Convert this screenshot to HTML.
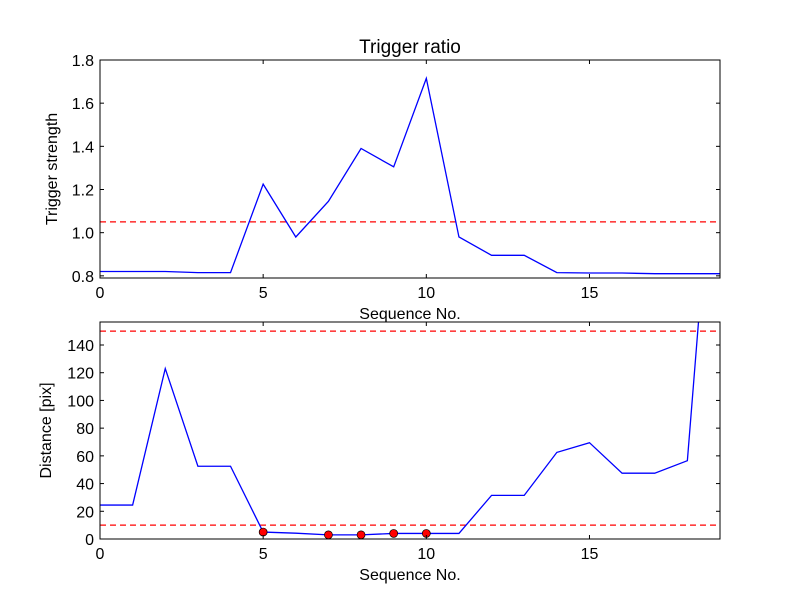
<!DOCTYPE html>
<html><head><meta charset="utf-8"><style>
body{margin:0;background:#fff;font-family:"Liberation Sans",sans-serif}
svg text{font-family:"Liberation Sans",sans-serif;fill:#000}
</style></head><body>
<svg id="c" width="800" height="600" xmlns="http://www.w3.org/2000/svg"></svg>
<script>
const xTop=[0,1,2,3,4,5,6,7,8,9,10,11,12,13,14,15,16,17,18,19];
const ratio=[0.82,0.82,0.82,0.815,0.815,1.225,0.98,1.145,1.39,1.305,1.715,0.98,0.895,0.895,0.815,0.813,0.813,0.81,0.81,0.81];
const ratioThreshold=[1.05];
const distance=[24.5,24.5,123,52.5,52.5,5,4.2,3,3,4,4,4,31.5,31.5,62.5,69.5,47.5,47.5,56.5,350];
const markX=[5,7,8,9,10];
const markY=[5,3,3,4,4];
const distThresholds=[150,10];
const xTicks=[0,5,10,15];
const topYTicks=[0.8,1.0,1.2,1.4,1.6,1.8];
const botYTicks=[0,20,40,60,80,100,120,140];
const NS="http://www.w3.org/2000/svg";
const svg=document.getElementById('c');
function mk(t,a,p){const e=document.createElementNS(NS,t);for(const k in a)e.setAttribute(k,a[k]);(p||svg).appendChild(e);return e;}
function panel(o){
  const sx=v=>o.x0+(v-0)/(19-0)*(o.x1-o.x0);
  const sy=v=>o.y1-(v-o.ymin)/(o.ymax-o.ymin)*(o.y1-o.y0);
  const g=mk('g',{});
  
  
  const cid='clip'+o.name;
  const cp=mk('clipPath',{id:cid},g);mk('rect',{x:o.x0,y:o.y0,width:o.x1-o.x0,height:o.y1-o.y0},cp);
  const pg=mk('g',{'clip-path':'url(#'+cid+')'},g);
  o.hlines.forEach(h=>{const l=mk('line',{x1:o.x0,x2:o.x1,y1:sy(h),y2:sy(h),stroke:'#f00','stroke-width':1.3,'stroke-dasharray':'6,4'},pg);
    });
  const pts=o.ys.map((v,i)=>sx(xTop[i])+','+sy(v)).join(' ');
  const pl=mk('polyline',{points:pts,fill:'none',stroke:'#00f','stroke-width':1.3},pg);
  
  if(o.mx){o.mx.forEach((x,i)=>{const c=mk('circle',{cx:sx(x),cy:sy(o.my[i]),r:4,fill:'#f00',stroke:'#000','stroke-width':0.7},pg);
    });}
  mk('rect',{x:o.x0,y:o.y0,width:o.x1-o.x0,height:o.y1-o.y0,fill:'none',stroke:'#000','stroke-width':1},g);
  xTicks.forEach(t=>{const x=sx(t);mk('line',{x1:x,x2:x,y1:o.y1,y2:o.y1-4,stroke:'#000'},g);mk('line',{x1:x,x2:x,y1:o.y0,y2:o.y0+4,stroke:'#000'},g);
    const tx=mk('text',{x:x,y:o.y1+20,'text-anchor':'middle','font-size':16},g);tx.textContent=t;
    });
  o.yt.forEach(t=>{const y=sy(t);mk('line',{x1:o.x0,x2:o.x0+4,y1:y,y2:y,stroke:'#000'},g);mk('line',{x1:o.x1,x2:o.x1-4,y1:y,y2:y,stroke:'#000'},g);
    const tx=mk('text',{x:o.x0-6,y:y+6,'text-anchor':'end','font-size':16},g);tx.textContent=o.fmt(t);
    });
  const xl=mk('text',{x:(o.x0+o.x1)/2,y:o.y1+41,'text-anchor':'middle','font-size':16},g);xl.textContent='Sequence No.';
  
  const yl=mk('text',{x:0,y:0,'text-anchor':'middle','font-size':16,transform:'translate('+o.ylx+','+((o.y0+o.y1)/2)+') rotate(-90)'},g);yl.textContent=o.ylabel;
  
}
panel({name:'ratio-panel',x0:100,x1:720,y0:60,y1:278,ymin:0.79,ymax:1.8,ys:ratio,hlines:ratioThreshold,yt:topYTicks,fmt:v=>v.toFixed(1),ylabel:'Trigger strength',ylx:57});
panel({name:'distance-panel',x0:100,x1:720,y0:322,y1:539,ymin:0,ymax:156.6,ys:distance,hlines:distThresholds,yt:botYTicks,fmt:v=>v,ylabel:'Distance [pix]',ylx:51,mx:markX,my:markY});
const t=mk('text',{x:410,y:53,'text-anchor':'middle','font-size':19});t.textContent='Trigger ratio';

</script>
</body></html>
